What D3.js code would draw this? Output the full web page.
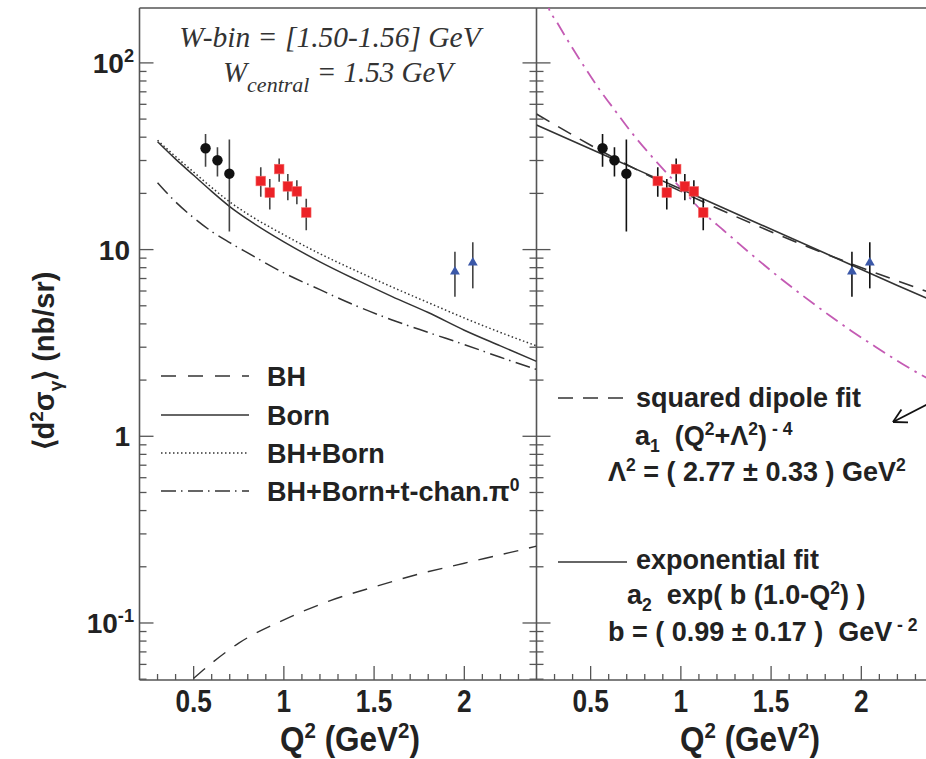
<!DOCTYPE html>
<html>
<head>
<meta charset="utf-8">
<script src="https://cdn.jsdelivr.net/npm/d3@7"></script>
<style>
  body { margin: 0; background: #fff; }
  svg { display: block; }
  text { white-space: pre; }
</style>
</head>
<body>
<svg id="chart" width="926" height="759"></svg>
<script>
// --- data ---
// black circles
const circQ2 = [0.566, 0.632, 0.698];
const circVal = [34.9, 30.1, 25.5];
const circLo = [27.8, 24.6, 12.5];
const circHi = [41.6, 35.3, 38.9];
// red squares
const sqQ2 = [0.872, 0.922, 0.974, 1.022, 1.072, 1.124];
const sqVal = [23.3, 20.2, 27.0, 21.8, 20.5, 15.8];
const sqLo = [19.2, 16.4, 23.1, 18.4, 17.5, 12.7];
const sqHi = [27.6, 23.9, 30.8, 25.4, 23.5, 18.7];
// blue triangles
const triQ2 = [1.948, 2.047];
const triVal = [7.61, 8.51];
const triLo = [5.59, 6.20];
const triHi = [9.74, 10.95];

// model curves, left panel
const modelQ2 = [0.3, 0.4, 0.5, 0.6, 0.7, 0.8, 1.0, 1.2, 1.4, 1.6, 1.8, 2.0, 2.2, 2.4];
const born = [37.8, 30.5, 25.0, 20.5, 17.0, 14.5, 11.0, 8.6, 6.9, 5.6, 4.6, 3.7, 3.05, 2.52];
const bhBorn = [38.5, 31.5, 26.0, 21.5, 18.0, 15.5, 12.0, 9.5, 7.7, 6.3, 5.2, 4.3, 3.6, 3.05];
const bhBornPi = [22.8, 18.0, 14.8, 12.5, 10.9, 9.6, 7.5, 6.1, 5.0, 4.2, 3.6, 3.1, 2.65, 2.28];
const bhQ2 = [0.5, 0.6, 0.75, 1.0, 1.25, 1.5, 1.75, 2.0, 2.25, 2.4];
const bh = [0.0505, 0.061, 0.078, 0.104, 0.131, 0.156, 0.183, 0.209, 0.238, 0.258];

// fits, right panel
const fitQ2 = [0.2, 0.6, 1.0, 1.4, 1.8, 2.2, 2.4];
const dipoleFit = [53.2, 32.1, 20.5, 13.7, 9.5, 6.8, 5.8];
const expoFit = [46.5, 31.3, 21.1, 14.2, 9.55, 6.42, 5.3];
const magQ2 = [0.25, 0.268, 0.309, 0.385, 0.465, 0.548, 0.637, 0.726, 0.821, 0.920, 1.019, 1.124, 1.236, 1.5, 1.822, 1.943, 2.068, 2.365, 2.4];
const magVal = [225, 196, 167.7, 126.3, 95.4, 72.2, 55.3, 42.5, 33.0, 25.8, 20.4, 15.8, 12.7, 7.7, 4.45, 3.68, 3.06, 2.05, 1.97];

// ticks
const yMajor = [0.1, 1, 10, 100];
const yMajorLabel = [["10", "-1"], ["1", null], ["10", null], ["10", "2"]];
const xMajor = [0.5, 1, 1.5, 2];
const xMajorLabel = ["0.5", "1", "1.5", "2"];

// --- setup ---
const svg = d3.select("#chart");
const top_ = 8, bottom = 680;
const y = d3.scaleLog().domain([0.0495, 196.8]).range([bottom, top_]);
const xL = d3.scaleLinear().domain([0.2, 2.4]).range([139.5, 536.5]);
const xR = d3.scaleLinear().domain([0.2, 2.4]).range([536.5, 933.5]);
const axisCol = "#555";
const sans = "'Liberation Sans', Arial, sans-serif";
const serif = "'Liberation Serif', 'Times New Roman', serif";

// text with sub/superscripts
function rich(sel, parts, fs) {
    let shift = 0;
    parts.forEach(p => {
        const [txt, kind] = Array.isArray(p) ? p : [p, null];
        const target = kind === "sup" ? -fs * 0.38 : kind === "sub" ? fs * 0.26 : 0;
        const ts = sel.append("tspan").attr("dy", target - shift).text(txt);
        if (kind) ts.attr("font-size", fs * 0.65);
        shift = target;
    });
    return sel;
}

// clip paths
[["clipL", xL], ["clipR", xR]].forEach(([id, x]) => {
    svg.append("clipPath").attr("id", id).append("rect")
        .attr("x", x.range()[0]).attr("y", top_)
        .attr("width", x.range()[1] - x.range()[0]).attr("height", bottom - top_);
});

// frame
const frame = svg.append("g").attr("stroke", axisCol).attr("stroke-width", 1.6).attr("fill", "none");
frame.append("line").attr("x1", 139.5).attr("x2", 926).attr("y1", top_).attr("y2", top_);
frame.append("line").attr("x1", 139.5).attr("x2", 139.5).attr("y1", top_).attr("y2", bottom);
frame.append("line").attr("x1", 536.5).attr("x2", 536.5).attr("y1", top_).attr("y2", bottom);
frame.append("line").attr("x1", 139.5).attr("x2", 926).attr("y1", bottom).attr("y2", bottom);

// y ticks (inward)
const yMinor = y.ticks().filter(v => !yMajor.some(m => Math.abs(m - v) / m < 1e-6));
function yTicks(x0, dir) {
    const g = svg.append("g").attr("stroke", axisCol).attr("stroke-width", 1.3);
    g.selectAll(".maj").data(yMajor).join("line")
        .attr("x1", x0).attr("x2", x0 + dir * 14)
        .attr("y1", d => y(d)).attr("y2", d => y(d));
    g.selectAll(".min").data(yMinor).join("line")
        .attr("x1", x0).attr("x2", x0 + dir * 7)
        .attr("y1", d => y(d)).attr("y2", d => y(d));
}
yTicks(139.5, 1);
yTicks(536.5, -1);
yTicks(536.5, 1);

// x ticks (inward) + condensed labels
const xMinor = d3.range(3, 24).map(i => i / 10).filter(v => !xMajor.some(m => Math.abs(m - v) < 1e-6));
[xL, xR].forEach(x => {
    const g = svg.append("g").attr("stroke", axisCol).attr("stroke-width", 1.3);
    g.selectAll(".maj").data(xMajor).join("line")
        .attr("x1", d => x(d)).attr("x2", d => x(d))
        .attr("y1", bottom).attr("y2", bottom - 14);
    g.selectAll(".min").data(xMinor).join("line")
        .attr("x1", d => x(d)).attr("x2", d => x(d))
        .attr("y1", bottom).attr("y2", bottom - 6);
    svg.append("g").selectAll("text").data(xMajor).join("text")
        .attr("transform", d => `translate(${x(d)},712) scale(0.82,1)`)
        .attr("text-anchor", "middle")
        .attr("font-family", sans).attr("font-weight", "bold").attr("font-size", 32)
        .attr("fill", "#222")
        .text((d, i) => xMajorLabel[i]);
});

// y tick labels
yMajor.forEach((v, i) => {
    const [base, sup] = yMajorLabel[i];
    const t = svg.append("text")
        .attr("x", sup ? 134 : 130).attr("y", y(v) + 10)
        .attr("text-anchor", "end")
        .attr("font-family", sans).attr("font-weight", "bold").attr("font-size", 28)
        .attr("fill", "#222");
    rich(t, sup ? [base, [sup, "sup"]] : [base], 28);
});

// axis titles
[350, 750].forEach(cx => {
    const t = svg.append("text").attr("transform", `translate(${cx},751) scale(0.9,1)`)
        .attr("text-anchor", "middle")
        .attr("font-family", sans).attr("font-weight", "bold").attr("font-size", 35).attr("fill", "#222");
    rich(t, ["Q", ["2", "sup"], " (GeV", ["2", "sup"], ")"], 35);
});
const yl = svg.append("text")
    .attr("transform", "translate(54,361) rotate(-90)")
    .attr("text-anchor", "middle")
    .attr("font-family", sans).attr("font-weight", "bold").attr("font-size", 29).attr("fill", "#222");
rich(yl, ["\u27E8d", ["2", "sup"], "\u03C3", ["\u03B3", "sub"], "\u27E9 (nb/sr)"], 29);

// W-bin text
svg.append("text").attr("x", 330).attr("y", 47).attr("text-anchor", "middle")
    .attr("font-family", serif).attr("font-style", "italic").attr("font-size", 29.5).attr("fill", "#333")
    .text("W-bin = [1.50-1.56] GeV");
const wc = svg.append("text").attr("x", 338).attr("y", 82).attr("text-anchor", "middle")
    .attr("font-family", serif).attr("font-style", "italic").attr("font-size", 29).attr("fill", "#333");
wc.append("tspan").text("W");
wc.append("tspan").attr("dy", 10).attr("font-size", 22).text("central");
wc.append("tspan").attr("dy", -10).text(" = 1.53 GeV");

// --- curves ---
const curveCol = "#333";
function drawCurve(x, clip, xs, vs, dash, col, w) {
    const line = d3.line().x(d => x(d[0])).y(d => y(d[1])).curve(d3.curveMonotoneX);
    svg.append("path")
        .attr("clip-path", `url(#${clip})`)
        .attr("d", line(d3.zip(xs, vs)))
        .attr("fill", "none").attr("stroke", col).attr("stroke-width", w)
        .attr("stroke-dasharray", dash);
}
drawCurve(xL, "clipL", modelQ2, bhBorn, "1.5,2.5", curveCol, 1.5);
drawCurve(xL, "clipL", modelQ2, born, null, curveCol, 1.5);
drawCurve(xL, "clipL", modelQ2, bhBornPi, "15,5,1.5,5.5", curveCol, 1.5);
drawCurve(xL, "clipL", bhQ2, bh, "15,11", curveCol, 1.4);

drawCurve(xR, "clipR", magQ2, magVal, "14,6,2.5,6", "#c45bb4", 1.8);
drawCurve(xR, "clipR", fitQ2, dipoleFit, "15,10", curveCol, 1.6);
drawCurve(xR, "clipR", fitQ2, expoFit, null, curveCol, 1.6);

// --- data points ---
function drawPoints(x, clip, errCol) {
    const g = svg.append("g").attr("clip-path", `url(#${clip})`);
    const sets = [
        [circQ2, circLo, circHi],
        [sqQ2, sqLo, sqHi],
        [triQ2, triLo, triHi]
    ];
    sets.forEach(([qs, lo, hi]) => {
        g.append("g").selectAll("line").data(qs).join("line")
            .attr("x1", d => x(d)).attr("x2", d => x(d))
            .attr("y1", (d, i) => y(lo[i])).attr("y2", (d, i) => y(hi[i]))
            .attr("stroke", errCol).attr("stroke-width", 1.6);
    });
    g.append("g").selectAll("circle").data(circQ2).join("circle")
        .attr("cx", d => x(d)).attr("cy", (d, i) => y(circVal[i]))
        .attr("r", 5.2).attr("fill", "#111");
    g.append("g").selectAll("rect").data(sqQ2).join("rect")
        .attr("x", d => x(d) - 4.8).attr("y", (d, i) => y(sqVal[i]) - 4.8)
        .attr("width", 9.6).attr("height", 9.6)
        .attr("fill", "#ec2227").attr("stroke", "#f46a6a").attr("stroke-width", 0.6);
    const tri = d3.symbol(d3.symbolTriangle).size(42);
    g.append("g").selectAll("path").data(triQ2).join("path")
        .attr("transform", (d, i) => `translate(${x(d)},${y(triVal[i])})`)
        .attr("d", tri).attr("fill", "#3b58a8");
}
drawPoints(xL, "clipL", "#444");
drawPoints(xR, "clipR", "#111");

// --- legend, left panel ---
const legL = [
    ["BH", "15,12", null],
    ["Born", null, null],
    ["BH+Born", "1.5,2.5", null],
    ["BH+Born+t-chan.\u03C0", "15,5,1.5,5.5", "0"]
];
const legY = [376, 415, 453, 491];
legL.forEach(([label, dash, sup], i) => {
    svg.append("line").attr("x1", 161).attr("x2", 249).attr("y1", legY[i]).attr("y2", legY[i])
        .attr("stroke", curveCol).attr("stroke-width", 1.4).attr("stroke-dasharray", dash);
    const t = svg.append("text").attr("x", 267).attr("y", legY[i] + 10)
        .attr("font-family", sans).attr("font-weight", "bold").attr("font-size", 27).attr("fill", "#222");
    rich(t, sup ? [label, [sup, "sup"]] : [label], 27);
});

// --- legend, right panel ---
function legText(x, yy, parts) {
    const t = svg.append("text").attr("x", x).attr("y", yy)
        .attr("font-family", sans).attr("font-weight", "bold").attr("font-size", 27).attr("fill", "#222");
    rich(t, parts, 27);
}
svg.append("line").attr("x1", 558).attr("x2", 628).attr("y1", 398).attr("y2", 398)
    .attr("stroke", curveCol).attr("stroke-width", 1.4).attr("stroke-dasharray", "15,10");
legText(636, 407, ["squared dipole fit"]);
legText(635, 445, ["a", ["1", "sub"], "  (Q", ["2", "sup"], "+\u039B", ["2", "sup"], ")", [" - 4", "sup"]]);
legText(608, 481, ["\u039B", ["2", "sup"], " = ( 2.77 \u00B1 0.33 ) GeV", ["2", "sup"]]);

svg.append("line").attr("x1", 558).attr("x2", 627).attr("y1", 562).attr("y2", 562)
    .attr("stroke", curveCol).attr("stroke-width", 1.4);
legText(636, 569, ["exponential fit"]);
legText(627, 604, ["a", ["2", "sub"], "  exp( b (1.0-Q", ["2", "sup"], ") )"]);
legText(608, 641, ["b = ( 0.99 \u00B1 0.17 )  GeV", [" - 2", "sup"]]);

// annotation arrow
const arrowTip = [893, 422], arrowTail = [928, 404];
const ang = Math.atan2(arrowTail[1] - arrowTip[1], arrowTail[0] - arrowTip[0]);
const ar = svg.append("g").attr("stroke", "#111").attr("stroke-width", 1.8).attr("fill", "none");
ar.append("line").attr("x1", arrowTip[0]).attr("y1", arrowTip[1]).attr("x2", arrowTail[0]).attr("y2", arrowTail[1]);
[-0.5, 0.5].forEach(da => {
    ar.append("line").attr("x1", arrowTip[0]).attr("y1", arrowTip[1])
        .attr("x2", arrowTip[0] + 15 * Math.cos(ang + da))
        .attr("y2", arrowTip[1] + 15 * Math.sin(ang + da));
});
</script>
</body>
</html>
